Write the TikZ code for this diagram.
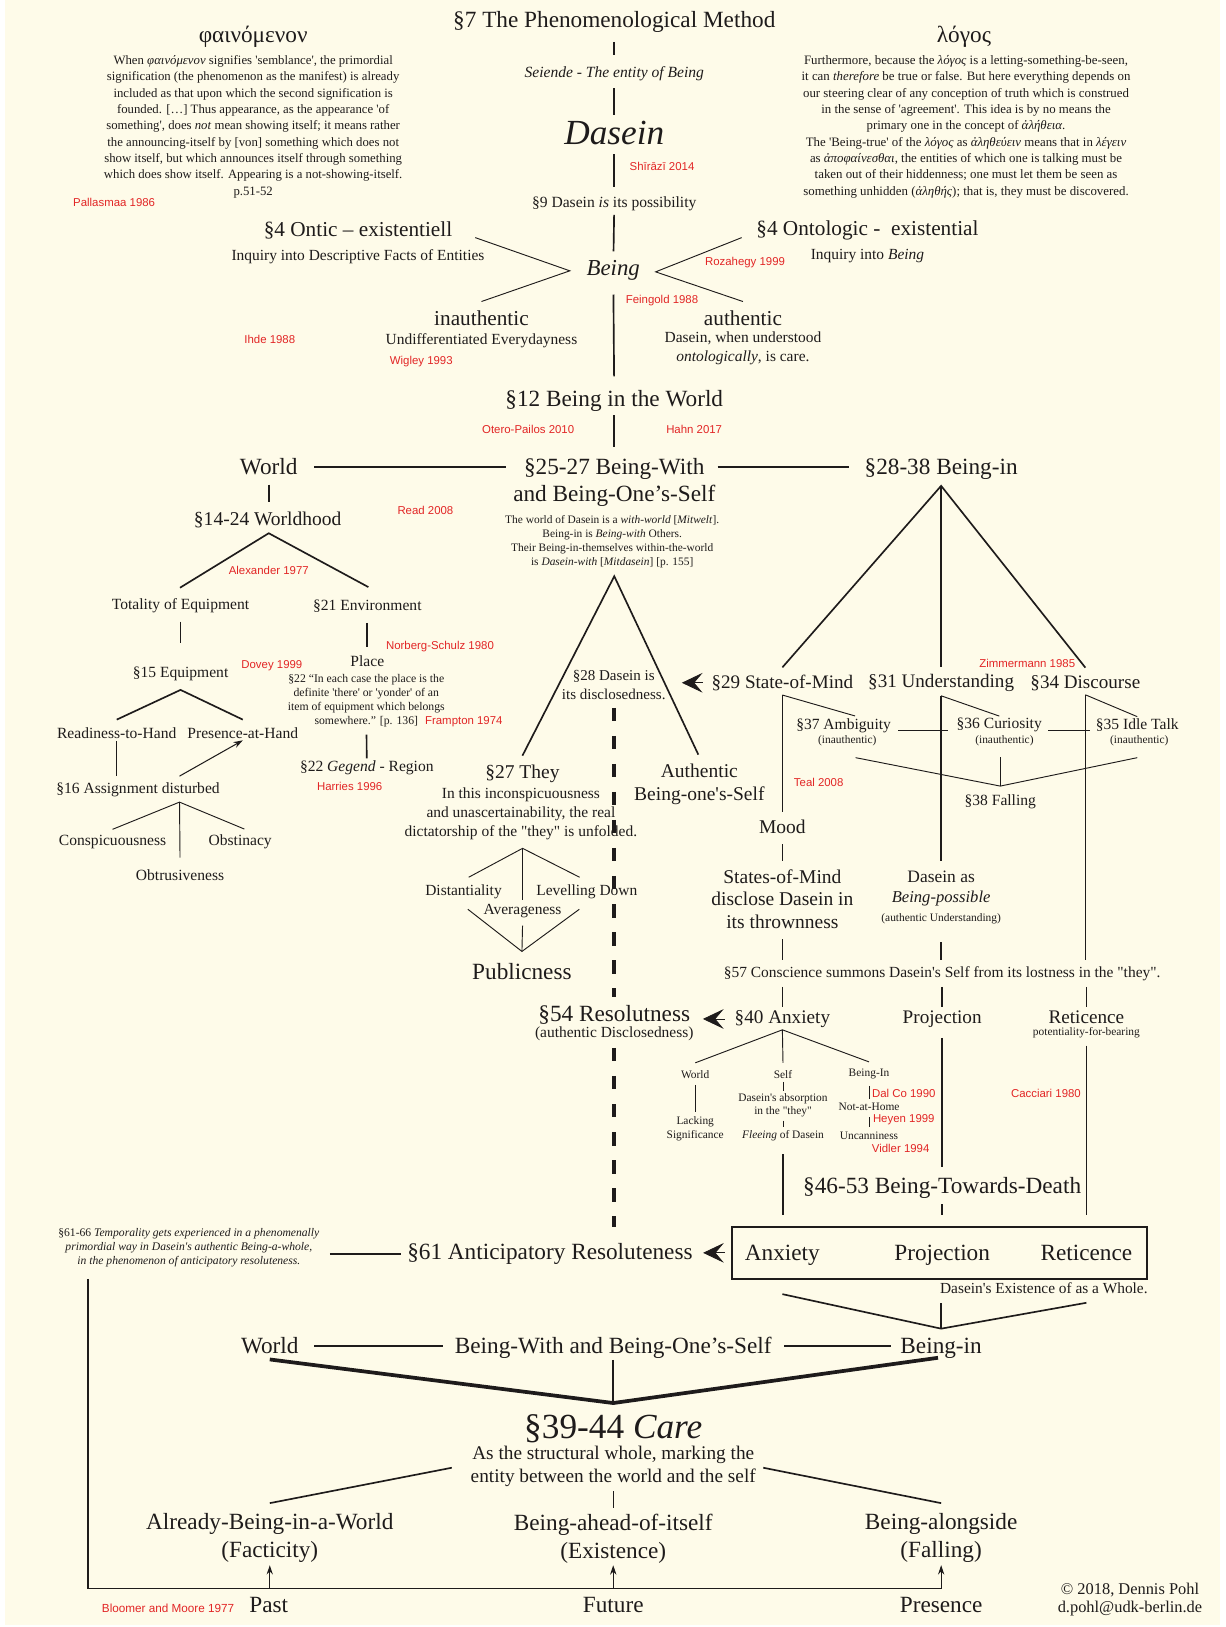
\documentclass[tikz,border=0pt]{standalone}
\usepackage{fontspec}
\setmainfont{Liberation Serif}[Ligatures=TeXOff]
\setsansfont{Liberation Sans}[Ligatures=TeXOff]
\usepackage{tikz}
\usetikzlibrary{arrows.meta,positioning,calc}
\usepackage{xcolor}
\definecolor{paper}{RGB}{254,251,233}
\definecolor{ink}{RGB}{30,27,27}
\definecolor{refred}{RGB}{226,38,38}
\tikzset{
  bigtext/.style={inner sep=1pt,align=center,font=\fontsize{22.4}{26.5}\selectfont},
  midtext/.style={inner sep=1pt,align=center,font=\fontsize{18.8}{22}\selectfont},
  smalltext/.style={inner sep=1pt,align=center,font=\fontsize{15}{18}\selectfont},
  glosstext/.style={inner sep=1pt,align=center,font=\fontsize{14.9}{18.2}\selectfont},
  quotetext/.style={inner sep=1pt,align=center,font=\fontsize{11}{13.4}\selectfont},
  finetext/.style={inner sep=1pt,align=center,font=\fontsize{11}{13}\selectfont},
  citetext/.style={inner sep=1pt,text=refred,font=\sffamily\fontsize{11}{13}\selectfont},
  rung/.style={draw=ink,line width=1.6pt,shorten <=8pt,shorten >=8pt},
  limb/.style={draw=ink,line width=1.6pt},
  twig/.style={draw=ink,line width=0.9pt},
  heavy/.style={draw=ink,line width=3.6pt},
  disclosure/.style={draw=ink,line width=3.6pt,dash pattern=on 13pt off 14pt},
  pointer/.style={draw=ink,line width=0.8pt,-{Stealth[length=20pt,width=19pt,inset=8pt]}},
  rise/.style={draw=ink,line width=1pt,-{Stealth[length=9pt,width=6pt]}}
}

\begin{document}
\begin{tikzpicture}[x=1pt,y=-1pt,text=ink]
  \fill[white] (0,0) rectangle (1181,1568);
  \fill[paper] (5,0) rectangle (1176,1566);
  \useasboundingbox (0,0) rectangle (1181,1568);

  % head of the page
  \node[bigtext] (method) at (592, 21) {§7 The Phenomenological Method};
  \node[smalltext] (seiende) at (592, 71) {\textit{Seiende - The entity of Being}};
  \node[bigtext,font=\fontsize{34}{40}\selectfont\itshape] (dasein) at (592, 128) {Dasein};
  \node[citetext] at (638, 160) {Shīrāzī 2014};
  \node[smalltext] (possib) at (592, 196) {§9 Dasein \textit{is} its possibility};
  \node[bigtext,font=\fontsize{22}{26}\selectfont\itshape] (being) at (591, 261) {Being};
  \node[bigtext] (phainohead) at (244, 35) {φαινόμενον};
  \node[quotetext,font=\fontsize{12.3}{15.75}\selectfont] (phainotext) at (244, 122) {When \textit{φαινόμενον} signifies 'semblance', the primordial\\signification (the phenomenon as the manifest) is already\\included as that upon which the second signification is\\founded. […] Thus appearance, as the appearance 'of\\something', does \textit{not} mean showing itself; it means rather\\the announcing-itself by [von] something which does not\\show itself, but which announces itself through something\\which does show itself. Appearing is a not-showing-itself.\\p.51-52};
  \node[citetext] at (110, 195) {Pallasmaa 1986};
  \node[bigtext] (logoshead) at (929, 35) {λόγος};
  \node[quotetext,font=\fontsize{12.4}{15.75}\selectfont] (logostext) at (931, 122) {Furthermore, because the \textit{λόγος} is a letting-something-be-seen,\\it can \textit{therefore} be true or false. But here everything depends on\\our steering clear of any conception of truth which is construed\\in the sense of 'agreement'. This idea is by no means the\\primary one in the concept of \textit{ἀλήθεια}.\\The 'Being-true' of the \textit{λόγος} as \textit{ἀληθεύειν} means that in \textit{λέγειν}\\as \textit{ἀποφαίνεσθαι}, the entities of which one is talking must be\\taken out of their hiddenness; one must let them be seen as\\something unhidden (\textit{ἀληθής}); that is, they must be discovered.};
  \node[bigtext,font=\fontsize{20.5}{26}\selectfont] (ontic) at (345, 222) {§4 Ontic – existentiell};
  \node[glosstext] (onticsub) at (345, 247) {Inquiry into Descriptive Facts of Entities};
  \node[bigtext,font=\fontsize{20.5}{26}\selectfont] (ontol) at (836, 222) {§4 Ontologic -~ existential};
  \node[glosstext] (ontolsub) at (836, 247) {Inquiry into \textit{Being}};
  \node[citetext] at (718, 253) {Rozahegy 1999};
  \node[citetext] at (638, 290) {Feingold 1988};
  \node[bigtext,font=\fontsize{20.5}{26}\selectfont] (inauth) at (464, 307) {inauthentic};
  \node[glosstext] (inauthsub) at (464, 328) {Undifferentiated Everydayness};
  \node[citetext] at (260, 327) {Ihde 1988};
  \node[citetext] at (406, 348) {Wigley 1993};
  \node[bigtext,font=\fontsize{20.5}{26}\selectfont] (auth) at (716, 307) {authentic};
  \node[glosstext] (authsub) at (716, 336) {Dasein, when understood\\\textit{ontologically}, is care.};
  \node[bigtext] (inworld) at (592, 386) {§12 Being in the World};
  \node[citetext] at (509, 414) {Otero-Pailos 2010};
  \node[citetext] at (669, 414) {Hahn 2017};

  % world
  \node[bigtext] (worldtop) at (259, 450) {World};
  \node[bigtext] (withself) at (592, 465) {§25-27 Being-With\\and Being-One’s-Self};
  \node[bigtext] (beingin) at (907, 452) {§28-38 Being-in};
  \node[quotetext] (mitwelt) at (590, 522) {The world of Dasein is a \textit{with-world} [\textit{Mitwelt}].\\Being-in is \textit{Being-with} Others.\\Their Being-in-themselves within-the-world\\is \textit{Dasein-with} [\textit{Mitdasein}] [p. 155]};
  \node[midtext] (worldhood) at (258, 501) {§14-24 Worldhood};
  \node[citetext] at (410, 492) {Read 2008};
  \node[citetext] at (259, 550) {Alexander 1977};
  \node[smalltext] (totality) at (174, 584) {Totality of Equipment};
  \node[smalltext] (environ) at (354, 584) {§21 Environment};
  \node[citetext] at (424, 623) {Norberg-Schulz 1980};
  \node[smalltext] (place) at (354, 637) {Place};
  \node[quotetext,font=\fontsize{11.3}{13.5}\selectfont] (placequote) at (353, 675.3) {§22 “In each case the place is the\\definite 'there' or 'yonder' of an\\item of equipment which belongs\\somewhere.” [p. 136]};
  \node[citetext] at (447, 696) {Frampton 1974};
  \node[citetext] at (262, 642) {Dovey 1999};
  \node[smalltext] (equip) at (174, 649) {§15 Equipment};
  \node[smalltext] (readiness) at (112.5, 707) {Readiness-to-Hand};
  \node[smalltext] (presence) at (234, 707) {Presence-at-Hand};
  \node[smalltext] (assign) at (133, 761) {§16 Assignment disturbed};
  \node[smalltext] (conspic) at (108.5, 811) {Conspicuousness};
  \node[smalltext] (obstin) at (231.5, 811) {Obstinacy};
  \node[smalltext] (obtrus) at (173.5, 843) {Obtrusiveness};
  \node[smalltext] (gegend) at (353.5, 740) {§22 \textit{Gegend} - Region};
  \node[citetext] at (337, 758) {Harries 1996};

  % being-with
  \node[glosstext,font=\fontsize{14.5}{18}\selectfont] (disc) at (591.5, 660) {§28 Dasein is\\its disclosedness.};
  \node[midtext] (they) at (503.5, 746) {§27 They};
  \node[glosstext] (theysub) at (502, 784) {In this inconspicuousness\\and unascertainability, the real\\dictatorship of the "they" is unfolded.};
  \node[midtext] (authself) at (674, 756) {Authentic\\Being-one's-Self};
  \node[glosstext] (distant) at (446.7, 859.4) {Distantiality};
  \node[glosstext] (level) at (565.6, 859.4) {Levelling Down};
  \node[glosstext] (averag) at (503.6, 878.3) {Averageness};
  \node[bigtext] (public) at (503, 936) {Publicness};
  \node[bigtext] (resol) at (592, 978.5) {§54 Resolutness};
  \node[glosstext] (resolsub) at (592, 996) {(authentic Disclosedness)};

  % being-in
  \node[citetext] at (990, 639) {Zimmermann 1985};
  \node[midtext,font=\fontsize{18.4}{22}\selectfont] (state) at (754, 658) {§29 State-of-Mind};
  \node[midtext,font=\fontsize{18.4}{22}\selectfont] (underst) at (907, 658) {§31 Understanding};
  \node[midtext,font=\fontsize{18.4}{22}\selectfont] (discourse) at (1046, 658) {§34 Discourse};
  \node[smalltext] (ambig) at (813, 699) {§37 Ambiguity};
  \node[finetext] (ambsub) at (816.6, 714) {(inauthentic)};
  \node[smalltext] (curios) at (963, 699) {§36 Curiosity};
  \node[finetext] (curiosub) at (968, 714) {(inauthentic)};
  \node[smalltext] (idle) at (1096, 699) {§35 Idle Talk};
  \node[finetext] (idlesub) at (1098, 714) {(inauthentic)};
  \node[smalltext] (falling) at (964, 772.6) {§38 Falling};
  \node[citetext] at (789, 754) {Teal 2008};
  \node[midtext] (mood) at (754, 797) {Mood};
  \node[midtext] (statesmind) at (754, 866.5) {States-of-Mind\\disclose Dasein in\\its thrownness};
  \node[smalltext,font=\fontsize{16.8}{20}\selectfont] (dasas) at (907, 844.6) {Dasein as};
  \node[smalltext,font=\fontsize{16}{20}\selectfont\itshape] (beingposs) at (907, 866) {Being-possible};
  \node[finetext] (undsub) at (907, 885) {(authentic Understanding)};
  \node[glosstext] (conscience) at (908, 938) {§57 Conscience summons Dasein's Self from its lostness in the "they".};
  \node[midtext,font=\fontsize{18.5}{22}\selectfont] (anxiety) at (754, 982) {§40 Anxiety};
  \node[midtext,font=\fontsize{18.5}{22}\selectfont] (projection) at (908, 982) {Projection};
  \node[midtext,font=\fontsize{18.5}{22}\selectfont] (reticence) at (1047, 980) {Reticence};
  \node[finetext] (retsub) at (1047, 995.5) {potentiality-for-bearing};
  \node[finetext] (axworld) at (670, 1035.4) {World};
  \node[finetext] (axself) at (754.6, 1035.4) {Self};
  \node[finetext] (axin) at (837.5, 1035.4) {Being-In};
  \node[finetext] (lacking) at (670, 1088) {Lacking\\Significance};
  \node[finetext] (absorb) at (754.6, 1065.3) {Dasein's absorption\\in the "they"};
  \node[finetext] (fleeing) at (754.6, 1094.2) {\textit{Fleeing} of Dasein};
  \node[finetext] (nothome) at (837.5, 1067) {Not-at-Home};
  \node[finetext] (uncanny) at (837.5, 1094.2) {Uncanniness};
  \node[citetext] at (871, 1054) {Dal Co 1990};
  \node[citetext] at (871, 1079) {Heyen 1999};
  \node[citetext] at (868, 1107) {Vidler 1994};
  \node[citetext] at (1008, 1054) {Cacciari 1980};
  \node[bigtext] (death) at (908, 1145) {§46-53 Being-Towards-Death};

  % the whole
  \node[draw=ink,line width=1.6pt,minimum width=400pt,minimum height=50pt] (existbox) at (905.4, 1207.4) {};
  \node[bigtext] (boxanx) at (754, 1209.5) {Anxiety};
  \node[bigtext] (boxproj) at (908, 1209.5) {Projection};
  \node[bigtext] (boxret) at (1047, 1207.6) {Reticence};
  \node[bigtext] (antic) at (530, 1208.5) {§61 Anticipatory Resoluteness};
  \node[quotetext,font=\fontsize{11.2}{13.7}\selectfont] (tempnote) at (182, 1202.6) {§61-66 \textit{Temporality gets experienced in a phenomenally}\\\textit{primordial way in Dasein's authentic Being-a-whole,}\\\textit{in the phenomenon of anticipatory resoluteness.}};
  \node[glosstext,font=\fontsize{14.8}{16}\selectfont] (existlabel) at (1006, 1241) {Dasein's Existence of as a Whole.};

  % care
  \node[bigtext] (world2) at (260, 1297) {World};
  \node[bigtext] (withself2) at (591, 1299) {Being-With and Being-One’s-Self};
  \node[bigtext] (beingin2) at (907, 1299.5) {Being-in};
  \node[bigtext,font=\fontsize{34}{40}\selectfont] (care) at (591, 1377) {§39-44 \textit{Care}};
  \node[midtext,font=\fontsize{18.6}{22}\selectfont] (caresub) at (591, 1413.5) {As the structural whole, marking the\\entity between the world and the self};
  \node[bigtext,font=\fontsize{22.4}{27}\selectfont] (already) at (260, 1482.5) {Already-Being-in-a-World\\(Facticity)};
  \node[bigtext,font=\fontsize{22.4}{27}\selectfont] (ahead) at (591, 1482.5) {Being-ahead-of-itself\\(Existence)};
  \node[bigtext,font=\fontsize{22.4}{27}\selectfont] (alongside) at (907, 1482.5) {Being-alongside\\(Falling)};
  \node[bigtext] (past) at (259, 1547) {Past};
  \node[bigtext] (future) at (591, 1547) {Future};
  \node[bigtext] (presentt) at (907, 1547) {Presence};
  \node[citetext,font=\sffamily\fontsize{11.3}{13}\selectfont] at (162, 1550) {Bloomer and Moore 1977};
  \node[smalltext,font=\fontsize{15.8}{17}\selectfont] (signature) at (1089, 1541.5) {© 2018, Dennis Pohl\\d.pohl@udk-berlin.de};

  % connectors, top
  \draw[rung,shorten >=10pt] (method) -- (seiende);
  \draw[rung,shorten <=6pt,shorten >=5pt] (seiende) -- (dasein);
  \draw[rung] (dasein) -- (possib);
  \draw[rung,shorten <=3pt] (possib) -- (being);
  \draw[rung,shorten <=12pt,shorten >=12pt] (being) -- (inworld);
  \draw[twig] ($(ontic.east)+(21,7)$) -- ($(being.west)+(-15,0)$) -- ($(inauth.north)+(0,-8)$);
  \draw[twig] ($(ontol.west)+(-13,7)$) -- ($(being.east)+(14,1)$) -- ($(auth.north)+(0,-8)$);
  \draw[rung,shorten <=3pt,shorten >=10pt] (inworld) -- (withself);
  \draw[rung,shorten <=15pt,shorten >=5.5pt] (worldtop) -- (worldtop -| withself.west);
  \draw[rung,shorten <=1pt,shorten >=13.5pt] (withself.east |- worldtop) -- (withself.east |- worldtop -| beingin.west);

  % connectors, world
  \draw[rung] (worldtop.south) -- (worldtop.south |- worldhood.north);
  \coordinate (whapex) at ($(worldhood.south)+(1,4)$);
  \draw[limb] ($(totality.north)+(-0.5,-9.5)$) -- (whapex) -- ($(environ.north)+(1,-11)$);
  \draw[rung,shorten <=7pt,shorten >=21pt] (totality) -- (equip);
  \draw[rung,shorten <=9pt,shorten >=7pt] (environ) -- (place);
  \draw[rung,shorten <=6pt,shorten >=1pt] (placequote) -- (gegend);
  \draw[limb] ($(readiness.north)+(0,-7)$) -- ($(equip.south)+(0,8)$) -- ($(presence.north)+(0,-7)$);
  \draw[twig,shorten <=1pt,shorten >=5pt] (readiness.south) -- (readiness.south |- assign.north);
  \draw[rise] ($(assign.north)+(40,-5)$) -- (presence.south);
  \coordinate (asapex) at ($(assign.south)+(40,4)$);
  \draw[twig] ($(conspic.north)+(0,-4)$) -- (asapex) -- ($(obstin.north)+(4,-4)$);
  \draw[twig] (asapex) -- ($(obtrus.north)+(0,-10)$);

  % connectors, being-with
  \coordinate (wsapex) at ($(mitwelt.south)+(2,7)$);
  \draw[limb] ($(they.north)+(0,-8)$) -- (wsapex) -- ($(authself.north)+(-1,-8)$);
  \draw[disclosure,shorten <=7pt,shorten >=7pt] (disc.south) -- (disc.south |- resol.north);
  \draw[disclosure,shorten <=6pt,shorten >=15pt] (resolsub.south) -- (resolsub.south |- antic.north);
  \draw[pointer,shorten <=7.5pt] (state.west) -- ++(-27.5,0);
  \coordinate (avtop) at ($(averag.north)+(0,-53)$);
  \draw[twig] ($(distant.north)+(5,-6)$) -- (avtop) -- ($(level.north)+(-7,-6)$);
  \draw[twig] (avtop) -- ($(averag.north)+(0,-3)$);
  \coordinate (avbot) at ($(public.north)+(0,-10)$);
  \draw[twig] ($(averag.west)+(-14,-2)$) -- (avbot) -- ($(averag.east)+(16,-2)$);
  \draw[twig] ($(averag.south)+(0,6)$) -- (avbot);

  % connectors, being-in
  \coordinate (biapex) at ($(beingin.south)+(0,5)$);
  \draw[limb] ($(state.north)+(0,-6)$) -- (biapex) -- ($(discourse.north)+(0,-6)$);
  \draw[limb] (biapex) -- ($(underst.north)+(0,-6)$);
  \coordinate (smstem) at ($(state.south)+(0,3)$);
  \draw[limb] (smstem) -- ($(mood.north)+(0,-7)$);
  \draw[twig] (smstem) -- ($(ambig.north)+(11,-1)$);
  \coordinate (unstem) at ($(underst.south)+(0,3)$);
  \draw[limb] (unstem) -- ($(dasas.north)+(0,-8)$);
  \draw[twig] (unstem) -- ($(curios.north)+(0,-1)$);
  \coordinate (dcstem) at ($(discourse.south)+(0,3)$);
  \draw[limb] (dcstem) -- ($(dcstem |- conscience.north)+(0,-5)$);
  \draw[twig] (dcstem) -- ($(idle.north)+(0,-1)$);
  \draw[twig,shorten <=6pt,shorten >=7pt] ($(ambig.east)+(0,5)$) -- ($(curios.west)+(0,5)$);
  \draw[twig,shorten <=5pt,shorten >=4pt] ($(curios.east)+(0,5)$) -- ($(idle.west)+(0,5)$);
  \coordinate (fallapex) at ($(falling.north)+(0,-7)$);
  \draw[twig] ($(ambsub.south)+(8,10)$) -- (fallapex) -- ($(idlesub.south)+(-2,10)$);
  \draw[twig] (fallapex) -- ++(0,-28);
  \draw[rung,shorten <=9pt,shorten >=7pt] (mood) -- (statesmind);
  \draw[rung,shorten <=9pt,shorten >=5pt] (statesmind.south) -- (statesmind.south |- conscience.north);
  \draw[rung,shorten <=17pt,shorten >=5pt] (undsub.south) -- (undsub.south |- conscience.north);
  \draw[rung,shorten <=5pt,shorten >=2pt] (conscience.south -| anxiety.north) -- (anxiety.north);
  \draw[rung,shorten <=5pt,shorten >=2pt] (conscience.south -| projection.north) -- (projection.north);
  \draw[rung,shorten <=5pt,shorten >=2pt] (conscience.south -| reticence.north) -- (reticence.north);
  \draw[pointer,shorten <=8.5pt] (anxiety.west) -- ++(-29.4,0);
  \coordinate (axapex) at ($(anxiety.south)+(0,1)$);
  \draw[twig] ($(axworld.north)+(0,-6)$) -- (axapex) -- ($(axin.north)+(0,-6)$);
  \draw[twig] (axapex) -- ($(axself.north)+(0,-6)$);
  \draw[twig,shorten <=5pt,shorten >=4pt] (axworld) -- (lacking);
  \draw[twig,shorten <=2pt,shorten >=1pt] (axself) -- (absorb);
  \draw[twig,shorten <=2pt,shorten >=2pt] (absorb) -- (fleeing);
  \draw[twig,shorten <=5pt,shorten >=3pt] (axin) -- (nothome);
  \draw[twig,shorten <=5pt,shorten >=3pt] (nothome) -- (uncanny);
  \draw[rung,shorten <=12pt,shorten >=11pt] (fleeing.south) -- (fleeing.south |- existbox.north);
  \draw[rung,shorten <=9pt,shorten >=9pt] (projection) -- (death);
  \draw[rung,shorten <=4pt,shorten >=11pt] (death.south) -- (death.south |- existbox.north);
  \draw[rung,shorten <=6pt,shorten >=11pt] (retsub.south) -- (retsub.south |- existbox.north);

  % connectors, the whole and care
  \draw[pointer,shorten <=6pt] (existbox.west) -- ++(-27,0);
  \draw[rung,shorten <=9pt,shorten >=5pt] (tempnote.east |- antic.west) -- (antic.west);
  \coordinate (tlcorner) at (85, 1531);
  \draw[limb,shorten <=10pt] (tempnote.south -| tlcorner) -- (tlcorner) -- (tlcorner -| alongside);
  \draw[rise,shorten >=1pt] (tlcorner -| already) -- (already.south);
  \draw[rise,shorten >=1pt] (tlcorner -| ahead) -- (ahead.south);
  \draw[rise,shorten >=1pt] (tlcorner -| alongside) -- (alongside.south);
  \coordinate (exapex) at ($(beingin2.north)+(0,-8)$);
  \draw[limb] ($(existbox.south -| boxanx)+(0,14)$) -- (exapex) -- ($(existlabel.south -| boxret)+(0,8)$);
  \draw[limb] (exapex) -- ($(existlabel.south -| exapex)+(0,8)$);
  \draw[rung,shorten <=14pt,shorten >=10pt] (world2) -- (world2 -| withself2.west);
  \draw[rung,shorten <=11pt,shorten >=8pt] (withself2.east |- world2) -- (world2 -| beingin2.west);
  \coordinate (careapex) at ($(care.north)+(0,-10)$);
  \draw[heavy] ($(world2.south)+(0,4)$) -- (careapex) -- ($(beingin2.south)+(-3,-2)$);
  \draw[limb] (withself2.south) -- (careapex);
  \draw[limb] ($(caresub.west)+(-17,1)$) -- ($(already.north)+(0,-9)$);
  \draw[limb] ($(caresub.east)+(6,1)$) -- ($(alongside.north)+(0,-9)$);
  \draw[twig,shorten <=3pt,shorten >=4pt] (caresub) -- (ahead);
\end{tikzpicture}
\end{document}
